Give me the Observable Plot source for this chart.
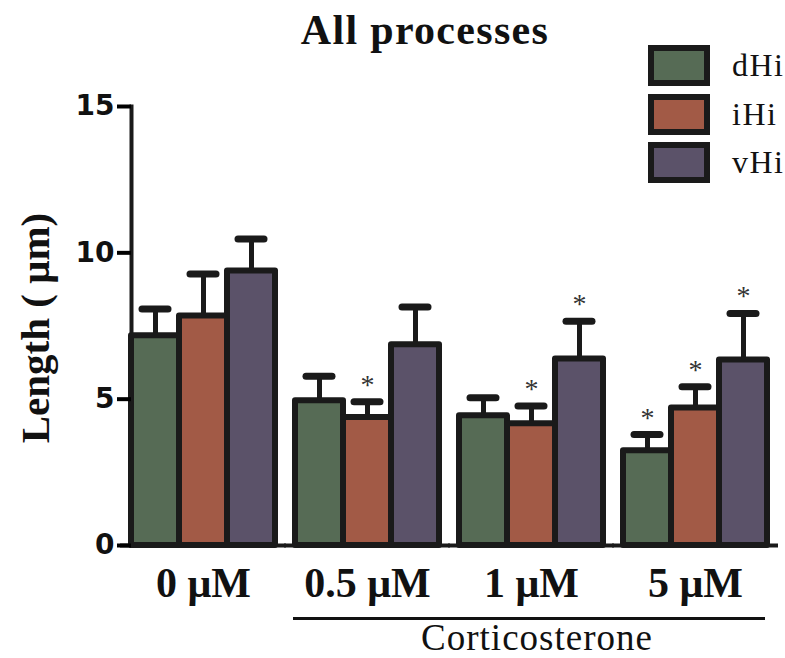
<!DOCTYPE html>
<html>
<head>
<meta charset="utf-8">
<script src="https://cdn.jsdelivr.net/npm/d3@7"></script>
<script src="https://cdn.jsdelivr.net/npm/@observablehq/plot@0.6"></script>
<style>
  html, body { margin: 0; padding: 0; background: #fff; }
  #wrap { position: relative; width: 785px; height: 658px; overflow: hidden; }
  #wrap svg { position: absolute; left: 0; top: 0; }
  .title { position: absolute; left: 0; width: 850px; top: 6px; text-align: center;
           font: bold 42px "Liberation Serif", "Times New Roman", serif; color: #111; letter-spacing: 1.3px; }
  .ylab { position: absolute; left: 35px; top: 328px; transform: translate(-50%, -50%) rotate(-90deg);
          white-space: nowrap; font: bold 41px "Liberation Serif", serif; color: #111; }
  .legend { position: absolute; left: 648px; top: 45px; }
  .legend .row { position: relative; height: 48.5px; }
  .legend .sw { position: absolute; left: 0; top: 0; width: 50px; height: 29px; border: 6px solid #1a1a1a; }
  .legend .lb { position: absolute; left: 84px; top: 0px; font: 32px "Liberation Serif", serif; color: #111; line-height: 40px; letter-spacing: 1.5px; }
  .group-line { position: absolute; left: 293px; width: 472px; top: 617px; height: 3px; background: #111; }
  .group-lab { position: absolute; left: 297px; width: 480px; top: 620px; text-align: center;
               font: 37px "Liberation Serif", serif; color: #111; line-height: 36px; letter-spacing: 1px; }
</style>
</head>
<body>
<div id="wrap"></div>
<script>
const groups = ["0 μM", "0.5 μM", "1 μM", "5 μM"];
const series = ["dHi", "iHi", "vHi"];
const colors = ["#566b55", "#a25a46", "#5b5269"];
const yTicks = [0, 5, 10, 15];

const dHiMean = [7.17, 4.95, 4.43, 3.24];
const dHiUpper = [8.08, 5.78, 5.05, 3.79];
const dHiSig = [false, false, false, true];

const iHiMean = [7.84, 4.37, 4.16, 4.70];
const iHiUpper = [9.28, 4.91, 4.77, 5.42];
const iHiSig = [false, true, true, true];

const vHiMean = [9.38, 6.86, 6.37, 6.34];
const vHiUpper = [10.47, 8.15, 7.66, 7.93];
const vHiSig = [false, false, true, true];

const groupTitle = "Corticosterone";
const chartTitle = "All processes";
const yLabel = "Length ( μm)";

const means = [dHiMean, iHiMean, vHiMean];
const uppers = [dHiUpper, iHiUpper, vHiUpper];
const sigs = [dHiSig, iHiSig, vHiSig];
const data = [];
groups.forEach((g, gi) => series.forEach((s, si) => {
  data.push({group: g, series: s, value: means[si][gi], hi: uppers[si][gi], sig: sigs[si][gi]});
}));

const ink = "#1a1a1a";
const chart = Plot.plot({
  width: 785,
  height: 658,
  marginLeft: 122,
  marginRight: 8,
  marginTop: 106,
  marginBottom: 113,
  style: {background: "transparent", overflow: "visible"},
  fx: {domain: groups, paddingInner: 0.12, paddingOuter: 0.045, label: null},
  x: {domain: series, padding: 0, axis: null},
  y: {domain: [0, 15], label: null},
  color: {domain: series, range: colors},
  marks: [
    Plot.ruleX(data, {fx: "group", x: "series", y1: "value", y2: "hi", stroke: ink, strokeWidth: 5}),
    Plot.tickY(data, {fx: "group", x: "series", y: "hi", stroke: ink, strokeWidth: 7, strokeLinecap: "round", insetLeft: 11, insetRight: 11}),
    Plot.barY(data, {fx: "group", x: "series", y: "value", fill: "series", stroke: ink, strokeWidth: 6, strokeLinejoin: "round", inset: 0}),
    Plot.text(data.filter(d => d.sig), {fx: "group", x: "series", y: "hi", text: () => "*", dy: -17, fontSize: 28, fontFamily: "Liberation Serif, serif", fill: "#333"}),
    Plot.ruleY([0], {stroke: ink, strokeWidth: 4, insetLeft: -11, insetRight: -11}),
    Plot.frame({anchor: "left", facet: "super", stroke: ink, strokeWidth: 4}),
    Plot.axisY({ticks: yTicks, tickSize: 14, tickPadding: 3, strokeWidth: 4, fontSize: 28, fontWeight: "bold", fontFamily: "DejaVu Sans, sans-serif", fill: "#111", label: null}),
    Plot.axisFx({anchor: "bottom", tickSize: 0, tickPadding: 22, fontSize: 42, fontWeight: "bold", fontFamily: "Liberation Serif, serif", fill: "#111", label: null})
  ]
});

const wrap = document.getElementById("wrap");
wrap.appendChild(chart);

const t = document.createElement("div"); t.className = "title"; t.textContent = chartTitle; wrap.appendChild(t);
const yl = document.createElement("div"); yl.className = "ylab"; yl.textContent = yLabel; wrap.appendChild(yl);
const lg = document.createElement("div"); lg.className = "legend";
series.forEach((s, i) => {
  const row = document.createElement("div"); row.className = "row";
  const sw = document.createElement("div"); sw.className = "sw"; sw.style.background = colors[i];
  const lb = document.createElement("div"); lb.className = "lb"; lb.textContent = s;
  row.appendChild(sw); row.appendChild(lb); lg.appendChild(row);
});
wrap.appendChild(lg);
const gl = document.createElement("div"); gl.className = "group-line"; wrap.appendChild(gl);
const gt = document.createElement("div"); gt.className = "group-lab"; gt.textContent = groupTitle; wrap.appendChild(gt);
</script>
</body>
</html>
